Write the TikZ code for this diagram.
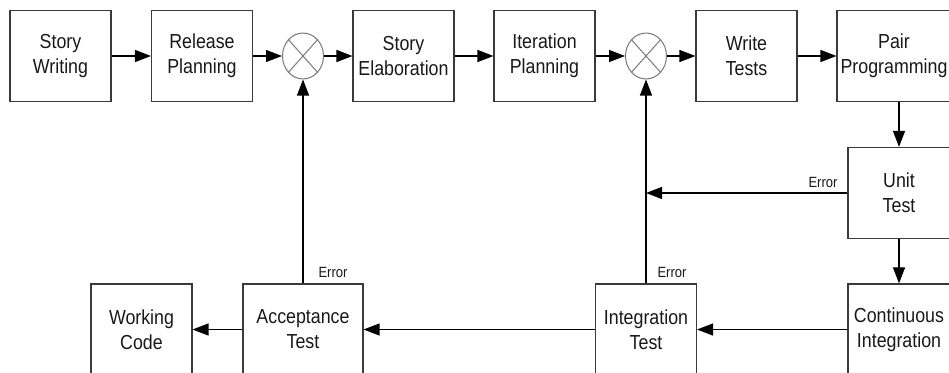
\documentclass[tikz,border=0pt]{standalone}
\usepackage{fontspec}
\setmainfont{Liberation Sans}
\usetikzlibrary{arrows.meta}
\definecolor{boxline}{HTML}{3A3A3A}
\definecolor{sumline}{HTML}{7A7A7A}
\tikzset{
  stage/.style={draw=boxline, line width=1.1pt, minimum width=101pt,
    minimum height=79.8pt, yscale=1.14, align=center, inner sep=2pt,
    font=\fontsize{17.8}{21.8}\selectfont, text=black!90},
  junction/.style={circle, draw=sumline, line width=1pt, minimum size=41pt,
    inner sep=0pt, yscale=1.12},
  cross/.style={draw=sumline, line width=1pt},
  flow/.style={-{Triangle[length=16pt,width=12pt]}, line width=1.2pt, black},
  errlabel/.style={font=\fontsize{13}{13}\selectfont, inner sep=0pt,
    yscale=1.14, text=black!90},
}
\begin{document}
\begin{tikzpicture}[x=1pt, y=-1pt]
  \useasboundingbox (0,0) rectangle (949,372);
  \fill[white] (0,0) rectangle (949,372);
  \clip (0,0) rectangle (949,372);

  % top row
  \node[stage] (sw) at (60.5,56) {Story\\Writing};
  \node[stage] (rp) at (202,56) {Release\\Planning};
  \node[junction] (j1) at (303,56) {};
  \node[stage] (se) at (403.5,56) {Story\\Elaboration};
  \node[stage] (ip) at (544.5,56) {Iteration\\Planning};
  \node[junction] (j2) at (646,56) {};
  \node[stage] (wt) at (746.5,56) {Write\\Tests};
  \node[stage, minimum width=114pt] (pp) at (894,56) {Pair\\Programming};

  % right column
  \node[stage, minimum width=102pt] (ut) at (899,193) {Unit\\Test};
  \node[stage, minimum width=102pt] (ci) at (899,329.5) {Continuous\\Integration};

  % bottom row
  \node[stage] (it) at (646,329.5) {Integration\\Test};
  \node[stage, minimum width=120pt] (at) at (303,329.5) {Acceptance\\Test};
  \node[stage] (wc) at (141.5,329.5) {Working\\Code};

  % crosses inside the summing junctions
  \foreach \j in {j1,j2} {
    \draw[cross] (\j.north east) -- (\j.south west)
                 (\j.north west) -- (\j.south east);
  }

  % forward flow
  \draw[flow] (sw.east) -- (rp.west);
  \draw[flow] (rp.east) -- (j1.west);
  \draw[flow] (j1.east) -- (se.west);
  \draw[flow] (se.east) -- (ip.west);
  \draw[flow] (ip.east) -- (j2.west);
  \draw[flow] (j2.east) -- (wt.west);
  \draw[flow] (wt.east) -- (pp.west);
  \draw[flow] (ut.north |- pp.south) -- (ut.north);
  \draw[flow] (ut.south) -- (ci.north);
  \draw[flow] (ci.west) -- (it.east);
  \draw[flow] (it.west) -- (at.east);
  \draw[flow] (at.west) -- (wc.east);

  % error feedback
  \coordinate (tap) at (ut.west -| it.north);
  \draw[flow] (it.north) -- (j2.south);
  \draw[flow] (ut.west) -- (tap);
  \draw[flow] (at.north) -- (j1.south);
  \node[errlabel] (e1) at (823,182) {Error};
  \node[errlabel] (e2) at (672,272) {Error};
  \node[errlabel] (e3) at (333,272) {Error};
\end{tikzpicture}
\end{document}
